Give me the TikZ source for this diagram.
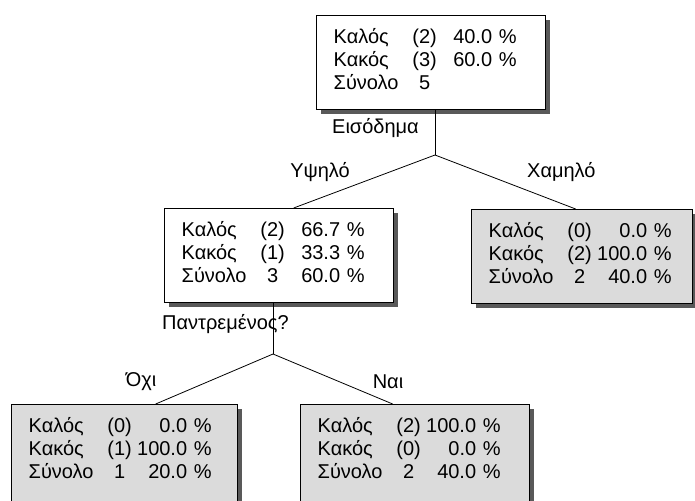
\documentclass[tikz,border=0pt]{standalone}
\usepackage{fontspec}
\setmainfont{Liberation Sans}
\usetikzlibrary{positioning,shadows}

% one line of a tree box: class, count, percent
\newcommand{\trow}[3]{\makebox[79pt][l]{#1}\makebox[24pt][c]{#2}\makebox[80pt][r]{#3}}

\begin{document}
\begin{tikzpicture}[x=1pt,y=-1pt,
  treebox/.style={draw=black, line width=1.3pt, fill=white, align=left,
    inner xsep=17pt, inner ysep=12pt, text width=195pt,
    text height=16pt, text depth=54pt, anchor=north west,
    font=\fontsize{20}{23}\selectfont,
    general shadow={fill=black!65, shadow xshift=4pt, shadow yshift=-4pt}},
  leafbox/.style={treebox, fill=black!14},
  splitlabel/.style={inner sep=0pt, font=\fontsize{20}{23}\selectfont},
  branch/.style={draw=black, line width=0.8pt}]
\path[use as bounding box, clip] (0,0) rectangle (695,500);

%Root
\node[treebox] (root) at (316,15)
  {\trow{Καλός}{(2)}{40.0 \%}\\ \trow{Κακός}{(3)}{60.0 \%}\\ \trow{Σύνολο}{5}{}};
\node[splitlabel, anchor=west] (income) at (332,128) {Εισόδημα};

%Level 1
\node[treebox] (high) at (164,208)
  {\trow{Καλός}{(2)}{66.7 \%}\\ \trow{Κακός}{(1)}{33.3 \%}\\ \trow{Σύνολο}{3}{60.0 \%}};
\node[leafbox, text width=187pt] (low) at (471,209)
  {\trow{Καλός}{(0)}{0.0 \%}\\ \trow{Κακός}{(2)}{100.0 \%}\\ \trow{Σύνολο}{2}{40.0 \%}};
\node[splitlabel, anchor=east] (highlab) at (350,172) {Υψηλό};
\node[splitlabel, anchor=west] (lowlab) at (527,172) {Χαμηλό};
\node[splitlabel, anchor=west] (married) at (162,324) {Παντρεμένος?};

%Level 2
\node[leafbox, text width=192pt, text depth=60pt] (no) at (11,404)
  {\trow{Καλός}{(0)}{0.0 \%}\\ \trow{Κακός}{(1)}{100.0 \%}\\ \trow{Σύνολο}{1}{20.0 \%}};
\node[leafbox, text depth=60pt] (yes) at (300,404)
  {\trow{Καλός}{(2)}{100.0 \%}\\ \trow{Κακός}{(0)}{0.0 \%}\\ \trow{Σύνολο}{2}{40.0 \%}};
\node[splitlabel] (nolab) at (141,382) {Όχι};
\node[splitlabel] (yeslab) at (388,382) {Ναι};

%Branches
\coordinate (j1) at (435,155);
\coordinate (j2) at (273,354);
\draw[branch] (root.south -| j1) -- (j1);
\draw[branch] (j1) -- ([xshift=14.5pt]high.north);
\draw[branch] (j1) -- ([xshift=-6.5pt]low.north);
\draw[branch] (high.south -| j2) -- (j2);
\draw[branch] (j2) -- ([xshift=31pt]no.north);
\draw[branch] (j2) -- ([xshift=-22.5pt]yes.north);
\end{tikzpicture}
\end{document}
